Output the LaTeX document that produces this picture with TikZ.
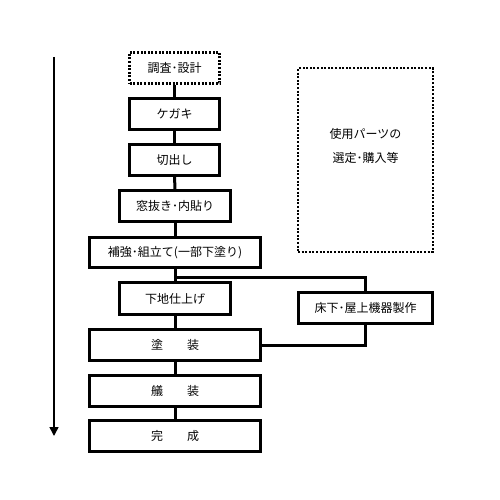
\documentclass[tikz,border=0pt]{standalone}
\usepackage{fontspec}
\newfontfamily\jp{Noto Sans CJK JP}
\usetikzlibrary{arrows.meta}
\begin{document}
\begin{tikzpicture}[x=1pt,y=-1pt,
  stepbox/.style={draw,line width=3pt,rectangle,inner sep=0pt,minimum height=31pt,font=\jp\fontsize{12}{14}\selectfont},
  dotbox/.style={stepbox,line width=2.5pt,dash pattern=on 2pt off 1.6pt},
  conn/.style={line width=3pt},
]
\useasboundingbox (0,0) rectangle (500,500);
\node[dotbox,minimum width=90pt] (s1) at (174.5,68) {調査･設計};
\node[stepbox,minimum width=90pt] (s2) at (174.5,114) {ケガキ};
\node[stepbox,minimum width=90pt] (s3) at (174.5,160) {切出し};
\node[stepbox,minimum width=111pt] (s4) at (175,206) {窓抜き･内貼り};
\node[stepbox,minimum width=171pt,minimum height=30pt] (s5) at (175,252.5) {補強･組立て(一部下塗り)};
\node[stepbox,minimum width=111pt,minimum height=32pt] (s6) at (175,298.5) {下地仕上げ};
\node[stepbox,minimum width=171pt] (s7) at (175,345) {塗\hspace{24pt}装};
\node[stepbox,minimum width=171pt] (s8) at (175,391) {艤\hspace{24pt}装};
\node[stepbox,minimum width=171pt] (s9) at (175,436) {完\hspace{24pt}成};
\node[stepbox,minimum width=134pt] (side) at (365.5,308) {床下･屋上機器製作};
\node[draw,line width=2pt,dash pattern=on 2pt off 1.6pt,minimum width=135pt,minimum height=183pt,inner sep=0pt,
  align=center,font=\jp\fontsize{12}{24}\selectfont] (parts) at (365.5,160) {使用パーツの\\選定･購入等\\[6pt]\mbox{}};
\draw[conn] (s1) -- (s2);
\draw[conn] (s2) -- (s3);
\draw[conn] (s3) -- (s4);
\draw[conn] (s4) -- (s5);
\draw[conn] (s5) -- (s6);
\draw[conn] (s6) -- (s7);
\draw[conn] (s7) -- (s8);
\draw[conn] (s8) -- (s9);
\coordinate (j) at (175,277);
\draw[conn] (j) -| (side.north);
\draw[conn] (side.south) |- (s7.east);
\coordinate (at) at (54,57);
\coordinate (ab) at (54,436);
\draw[line width=1.5pt,-{Triangle[length=9pt,width=9pt]}] (at) -- (ab);
\end{tikzpicture}
\end{document}
